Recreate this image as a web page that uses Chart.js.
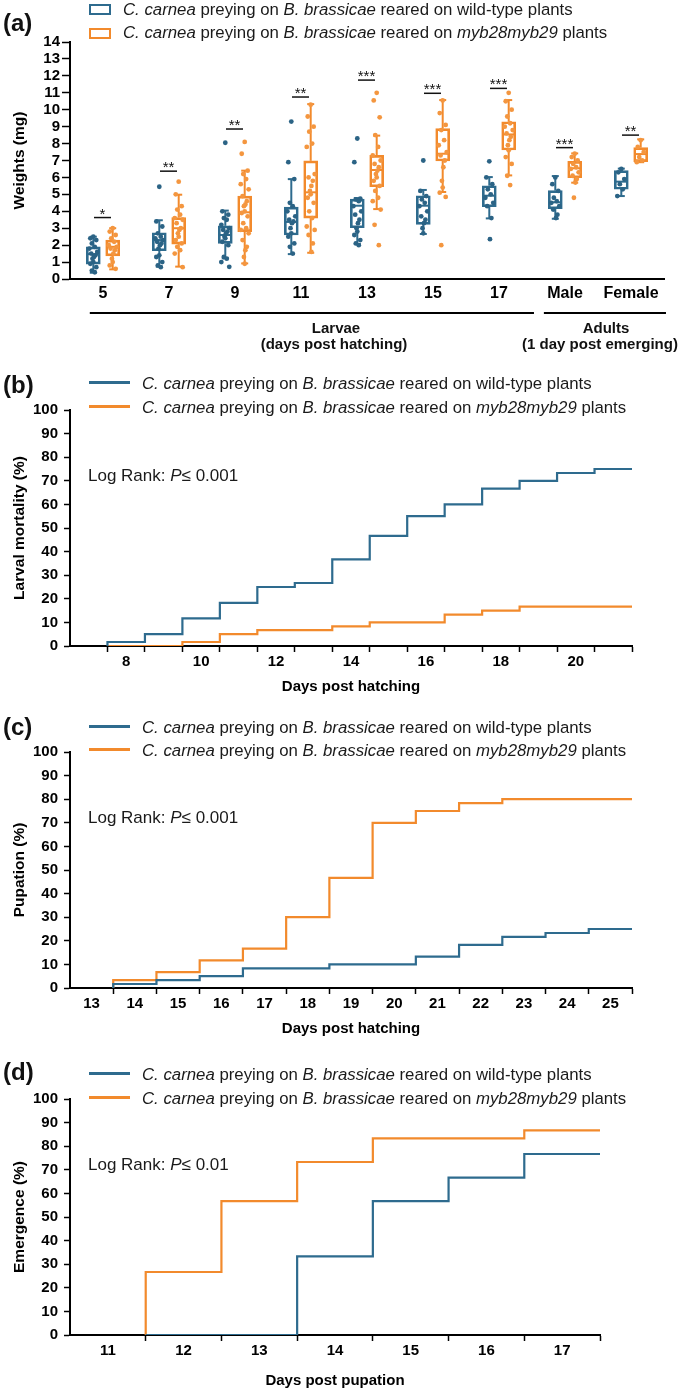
<!DOCTYPE html>
<html><head><meta charset="utf-8">
<script src="https://cdn.jsdelivr.net/npm/chart.js@4.4.1/dist/chart.umd.min.js"></script>
<style>
html,body{margin:0;padding:0;background:#fff;}
#page{position:relative;width:685px;height:1394px;overflow:hidden;font-family:"Liberation Sans",Arial,sans-serif;color:#1a1a1a;background:#fff;}
#page canvas{position:absolute;left:0;}
.t{position:absolute;white-space:nowrap;line-height:1;transform:translateY(-50%);}
.pl{font-weight:bold;font-size:24px;left:3px;color:#111;}
.lg{font-size:16.8px;}
.lr{font-size:17px;left:88px;}
.sw{position:absolute;left:89px;width:41px;height:2.5px;}
.bx{position:absolute;left:89px;width:22px;height:11px;box-sizing:border-box;border:2px solid;}
.br{font-weight:bold;font-size:15px;transform:translate(-50%,-50%);color:#111;}
</style></head><body><div id="page">
<canvas id="ca" width="685" height="360" style="top:0"></canvas>
<canvas id="cb" width="685" height="305" style="top:395px"></canvas>
<canvas id="cc" width="685" height="305" style="top:737px"></canvas>
<canvas id="cd" width="685" height="310" style="top:1084px"></canvas>

<div class="t pl" style="top:23px">(a)</div>
<div class="bx" style="top:4px;border-color:#2e6b8e"></div>
<div class="t lg" style="left:123px;top:10px"><i>C. carnea</i> preying on <i>B. brassicae</i> reared on wild-type plants</div>
<div class="bx" style="top:28px;border-color:#f28a2c"></div>
<div class="t lg" style="left:123px;top:33px"><i>C. carnea</i> preying on <i>B. brassicae</i> reared on <i>myb28myb29</i> plants</div>
<div class="t br" style="left:336px;top:327px">Larvae</div>
<div class="t br" style="left:334px;top:343px">(days post hatching)</div>
<div class="t br" style="left:606px;top:327px">Adults</div>
<div class="t br" style="left:600px;top:343px">(1 day post emerging)</div>

<div class="t pl" style="top:385px">(b)</div>
<div class="sw" style="top:381px;background:#2e6b8e"></div>
<div class="t lg" style="left:142px;top:384px"><i>C. carnea</i> preying on <i>B. brassicae</i> reared on wild-type plants</div>
<div class="sw" style="top:405px;background:#f28a2c"></div>
<div class="t lg" style="left:142px;top:408px"><i>C. carnea</i> preying on <i>B. brassicae</i> reared on <i>myb28myb29</i> plants</div>
<div class="t lr" style="top:475px">Log Rank: <i>P</i>≤ 0.001</div>

<div class="t pl" style="top:727px">(c)</div>
<div class="sw" style="top:725px;background:#2e6b8e"></div>
<div class="t lg" style="left:142px;top:728px"><i>C. carnea</i> preying on <i>B. brassicae</i> reared on wild-type plants</div>
<div class="sw" style="top:748px;background:#f28a2c"></div>
<div class="t lg" style="left:142px;top:751px"><i>C. carnea</i> preying on <i>B. brassicae</i> reared on <i>myb28myb29</i> plants</div>
<div class="t lr" style="top:817px">Log Rank: <i>P</i>≤ 0.001</div>

<div class="t pl" style="top:1072px">(d)</div>
<div class="sw" style="top:1072px;background:#2e6b8e"></div>
<div class="t lg" style="left:142px;top:1075px"><i>C. carnea</i> preying on <i>B. brassicae</i> reared on wild-type plants</div>
<div class="sw" style="top:1096px;background:#f28a2c"></div>
<div class="t lg" style="left:142px;top:1099px"><i>C. carnea</i> preying on <i>B. brassicae</i> reared on <i>myb28myb29</i> plants</div>
<div class="t lr" style="top:1164px">Log Rank: <i>P</i>≤ 0.01</div>
</div>
<script>
// ---------- (a) weights box plots ----------
const stageLabels = ['5','7','9','11','13','15','17','Male','Female'];
const wildQ1  = [0.88, 1.67, 2.10, 2.60, 3.03, 3.23, 4.27, 4.15, 5.30];
const wildMed = [1.47, 2.30, 2.60, 3.37, 4.33, 4.33, 4.92, 4.53, 5.75];
const wildQ3  = [1.90, 2.73, 3.14, 4.25, 4.72, 4.92, 5.51, 5.22, 6.40];
const wildLo  = [0.37, 0.73, 1.22, 1.47, 2.07, 2.66, 3.58, 3.56, 4.90];
const wildHi  = [2.50, 3.47, 4.04, 5.90, 4.78, 5.26, 6.02, 6.08, 6.52];
const mybQ1   = [1.37, 2.06, 2.80, 3.60, 5.45, 6.97, 7.62, 5.98, 6.93];
const mybMed  = [1.90, 3.00, 3.94, 5.12, 6.44, 7.40, 8.54, 6.54, 7.38];
const mybQ3   = [2.30, 3.63, 4.90, 6.98, 7.30, 8.88, 9.29, 6.95, 7.76];
const mybLo   = [0.57, 0.73, 0.92, 1.55, 4.13, 5.14, 6.12, 5.69, 6.90];
const mybHi   = [3.00, 4.98, 6.40, 10.33, 8.47, 10.57, 10.57, 7.42, 8.25];
const sigLevels = [3.63, 6.37, 8.86, 10.75, 11.75, 10.97, 11.26, 7.76, 8.5];
const sigStars  = ['*','**','**','**','***','***','***','***','**'];
const weightTicks = [0,1,2,3,4,5,6,7,8,9,10,11,12,13,14];
const wildPts = [
  [2.5,2.4,2.3,2.1,1.9,1.8,1.6,1.5,1.4,1.3,1.2,1.0,0.9,0.7,0.5,0.4],
  [5.45,3.4,3.1,2.7,2.5,2.4,2.3,2.2,2.1,2.0,1.8,1.4,1.3,1.0,0.8,0.7],
  [8.05,4.0,3.8,3.6,3.5,3.2,3.0,2.9,2.8,2.7,2.5,2.4,2.2,2.0,1.3,1.2,1.0,0.72],
  [9.3,6.9,5.9,4.5,4.3,4.0,3.7,3.5,3.4,3.3,3.0,2.7,2.5,2.1,1.9,1.5],
  [8.3,6.9,4.75,4.7,4.6,4.3,4.0,3.8,3.5,3.3,3.0,2.8,2.6,2.3,2.1,2.0],
  [7.0,5.2,4.9,4.7,4.5,4.3,4.0,3.7,3.5,3.3,3.0,2.7],
  [6.95,6.0,5.6,5.3,5.0,4.8,4.5,4.3,3.6,2.35],
  [6.0,5.6,5.2,4.8,4.6,4.5,4.3,4.1,3.8,3.6],
  [6.5,6.3,5.9,5.6,5.3,4.9]
];
const mybPts = [
  [3.0,2.8,2.6,2.4,2.2,2.0,1.9,1.8,1.7,1.5,1.2,1.0,0.8,0.6],
  [5.75,5.0,4.3,4.1,3.8,3.6,3.5,3.3,3.0,2.9,2.7,2.5,2.3,2.1,1.9,1.7,1.5,0.7],
  [8.1,7.4,6.4,6.2,5.9,5.6,5.3,4.9,4.6,4.4,4.3,4.0,3.9,3.7,3.3,3.0,2.9,2.7,2.3,1.9,1.7,1.3,0.9],
  [10.3,9.6,9.0,8.7,8.0,7.8,6.2,6.0,5.8,5.5,5.2,5.0,4.8,4.5,4.0,3.6,3.1,2.9,2.6,2.1,1.6],
  [11.0,10.55,9.55,8.5,7.8,7.3,7.0,6.8,6.6,6.4,6.2,6.0,5.8,5.5,5.2,4.8,4.6,4.1,3.2,2.0],
  [10.55,9.8,9.1,8.8,8.2,7.9,7.5,7.3,7.0,6.6,5.8,5.4,5.1,4.85,2.0],
  [11.0,10.5,10.0,9.6,9.2,9.0,8.8,8.6,8.4,8.2,7.9,7.6,7.2,6.8,6.1,5.55],
  [7.4,7.2,7.0,6.8,6.6,6.5,6.3,6.1,5.9,5.7,4.8],
  [8.2,7.8,7.5,7.2,7.0,6.9]
];

// ---------- (b) larval mortality ----------
const mortTickDays = [8,10,12,14,16,18,20];
const mortWildT = [7.5,7.5,8.5,9.5,10.5,11.5,12.5,13.5,14.5,15.5,16.5,17.5,18.5,19.5,20.5,21.5];
const mortWildV = [0,1.7,5,11.7,18.3,25,26.7,36.7,46.7,55,60,66.7,70,73.3,75,75];
const mortMybT  = [7.5,9.5,10.5,11.5,13.5,14.5,16.5,17.5,18.5,21.5];
const mortMybV  = [0,1.7,5,6.7,8.3,10,13.3,15,16.7,16.7];

// ---------- (c) pupation ----------
const pupTickDays = [13,14,15,16,17,18,19,20,21,22,23,24,25];
const pupWildT = [13.5,13.5,14.5,15.5,16.5,18.5,20.5,21.5,22.5,23.5,24.5,25.5];
const pupWildV = [0,1.7,3.3,5,8.3,10,13.3,18.3,21.7,23.3,25,25];
const pupMybT  = [13.5,13.5,14.5,15.5,16.5,17.5,18.5,19.5,20.5,21.5,22.5,25.5];
const pupMybV  = [0,3.3,6.7,11.7,16.7,30,46.7,70,75,78.3,80,80];

// ---------- (d) emergence ----------
const emTickDays = [11,12,13,14,15,16,17];
const emWildT = [11.5,13.5,14.5,15.5,16.5,17.5];
const emWildV = [0,33.3,56.7,66.7,76.7,76.7];
const emMybT  = [11.5,11.5,12.5,13.5,14.5,16.5,17.5];
const emMybV  = [0,26.7,56.7,73.3,83.3,86.7,86.7];

const FAMILY = '"Liberation Sans", Arial, sans-serif';
const BLUE = '#2e6b8e', ORANGE = '#f28a2c';
const BLUE_PT = '#2b6385', ORANGE_PT = '#f4963f';
Chart.defaults.font.family = FAMILY;
Chart.defaults.color = '#000';

const OFF = 0.147;
const JIT = [0,-0.045,0.045,-0.022,0.022,-0.06,0.06,-0.032,0.032,0.01,-0.012];
function ptsData(arr, off){
  const out = [];
  arr.forEach((vals,i)=>vals.forEach((v,k)=>out.push({x:i+off+JIT[k%JIT.length], y:v})));
  return out;
}
function boxData(q1,q3,off){ return q1.map((v,i)=>({x:i+off, y:[v,q3[i]]})); }

const groupsA = [
  {off:-OFF, color:BLUE, q1:wildQ1, med:wildMed, q3:wildQ3, lo:wildLo, hi:wildHi},
  {off: OFF, color:ORANGE, q1:mybQ1, med:mybMed, q3:mybQ3, lo:mybLo, hi:mybHi}
];
function seg(ctx,x1,y1,x2,y2){ctx.beginPath();ctx.moveTo(x1,y1);ctx.lineTo(x2,y2);ctx.stroke();}

const boxPlugin = {
  id:'boxExtras',
  beforeDatasetsDraw(chart){
    const {ctx, scales:{x,y}} = chart;
    ctx.save(); ctx.lineWidth = 2;
    groupsA.forEach(g=>{
      ctx.strokeStyle = g.color;
      stageLabels.forEach((_,i)=>{
        const px = x.getPixelForValue(i+g.off);
        const yh = y.getPixelForValue(g.hi[i]), yl = y.getPixelForValue(g.lo[i]);
        seg(ctx,px,y.getPixelForValue(g.q3[i]),px,yh);
        seg(ctx,px-3.5,yh,px+3.5,yh);
        seg(ctx,px,y.getPixelForValue(g.q1[i]),px,yl);
        seg(ctx,px-3.5,yl,px+3.5,yl);
        const ym = y.getPixelForValue(g.med[i]);
        seg(ctx,px-6,ym,px+6,ym);
      });
    });
    ctx.restore();
  },
  afterDraw(chart){
    const {ctx, scales:{x,y}} = chart;
    ctx.save();
    ctx.strokeStyle = '#111'; ctx.fillStyle = '#111'; ctx.lineWidth = 1.5;
    ctx.font = '15px ' + FAMILY; ctx.textAlign = 'center'; ctx.textBaseline = 'alphabetic';
    stageLabels.forEach((_,i)=>{
      const cx = x.getPixelForValue(i), py = y.getPixelForValue(sigLevels[i]);
      seg(ctx,cx-9,py,cx+8,py);
      ctx.fillText(sigStars[i], cx-0.5, py+1);
    });
    ctx.strokeStyle = '#000'; ctx.lineWidth = 2;
    const by = y.bottom + 34;
    seg(ctx, x.getPixelForValue(-0.2), by, x.getPixelForValue(6.53), by);
    seg(ctx, x.getPixelForValue(6.68), by, x.getPixelForValue(8.53), by);
    ctx.restore();
  }
};

new Chart(document.getElementById('ca'), {
  type:'bar',
  data:{datasets:[
    {type:'scatter', data:ptsData(wildPts,-OFF), backgroundColor:BLUE_PT, borderWidth:0, pointRadius:2.4, order:1},
    {type:'scatter', data:ptsData(mybPts,OFF), backgroundColor:ORANGE_PT, borderWidth:0, pointRadius:2.4, order:1},
    {type:'bar', data:boxData(wildQ1,wildQ3,-OFF), borderColor:BLUE, backgroundColor:'rgba(255,255,255,0)', borderWidth:2, barThickness:14, grouped:false, borderSkipped:false, order:2},
    {type:'bar', data:boxData(mybQ1,mybQ3,OFF), borderColor:ORANGE, backgroundColor:'rgba(255,255,255,0)', borderWidth:2, barThickness:14, grouped:false, borderSkipped:false, order:2}
  ]},
  options:{
    responsive:false, animation:false, events:[],
    layout:{padding:{top:42,right:21,left:0,bottom:0}},
    plugins:{legend:{display:false}, tooltip:{enabled:false}},
    scales:{
      x:{type:'linear', min:-0.5, max:8.5, offset:false,
        afterBuildTicks(s){ s.ticks = stageLabels.map((_,i)=>({value:i})); },
        ticks:{autoSkip:false, maxRotation:0, padding:5, font:{size:16, weight:'bold'}, color:'#000',
          callback:(v)=> (stageLabels[v] !== undefined ? stageLabels[v] : '')},
        grid:{display:false, drawTicks:false, offset:false},
        border:{display:true, color:'#000', width:2},
        afterFit(s){ s.height = 81; }
      },
      y:{min:0, max:14,
        afterBuildTicks(s){ s.ticks = weightTicks.map(v=>({value:v})); },
        ticks:{autoSkip:false, padding:2, font:{size:15, weight:'bold'}, color:'#000'},
        grid:{drawOnChartArea:false, drawTicks:true, tickLength:8, tickColor:'#000', tickWidth:1.5},
        border:{display:true, color:'#000', width:2},
        title:{display:true, text:'Weights (mg)', color:'#000', font:{size:15.5, weight:'bold'}, padding:{top:10,bottom:0}},
        afterFit(s){ s.width = 70; }
      }
    }
  },
  plugins:[boxPlugin]
});

function kmChart(id, c){
  const mk = (T,V)=>T.map((t,i)=>({x:t, y:V[i]}));
  return new Chart(document.getElementById(id), {
    type:'line',
    data:{datasets:[
      {data:mk(c.wT,c.wV), borderColor:BLUE, borderWidth:2.2, stepped:'before', pointRadius:0, fill:false},
      {data:mk(c.mT,c.mV), borderColor:ORANGE, borderWidth:2.2, stepped:'before', pointRadius:0, fill:false}
    ]},
    options:{
      responsive:false, animation:false, events:[],
      layout:{padding:{top:14, right:c.right, left:0, bottom:0}},
      plugins:{legend:{display:false}, tooltip:{enabled:false}},
      scales:{
        x:{type:'linear', min:c.xmin, max:c.xmax, offset:false,
          afterBuildTicks(s){ const t=[]; for(let v=c.xmin+0.5; v<=c.xmax+1e-9; v+=0.5) t.push({value:v}); s.ticks=t; },
          ticks:{autoSkip:false, maxRotation:0, padding:1, font:{size:15, weight:'bold'}, color:'#000',
            callback:(v)=> (c.labels.includes(v) ? String(v) : '')},
          grid:{drawOnChartArea:false, drawTicks:true, tickLength:6, tickWidth:1.5,
            tickColor:(ctx)=> (ctx.tick && Number.isInteger(ctx.tick.value)) ? 'rgba(0,0,0,0)' : '#000'},
          border:{display:true, color:'#000', width:2},
          title:{display:true, text:c.xTitle, color:'#000', font:{size:15, weight:'bold'}, padding:{top:4,bottom:4}},
          afterFit(s){ s.height = c.xh; }
        },
        y:{min:0, max:100,
          ticks:{stepSize:10, autoSkip:false, padding:6, font:{size:15, weight:'bold'}, color:'#000'},
          grid:{drawOnChartArea:false, drawTicks:true, tickLength:6, tickColor:'#000', tickWidth:1.5},
          border:{display:true, color:'#000', width:2},
          title:{display:true, text:c.yTitle, color:'#000', font:{size:15.5, weight:'bold'}, padding:{top:10,bottom:0}},
          afterFit(s){ s.width = 70; }
        }
      }
    }
  });
}

kmChart('cb', {wT:mortWildT, wV:mortWildV, mT:mortMybT, mV:mortMybV, xmin:6.5, xmax:21.5, labels:mortTickDays,
  right:53, xh:54, xTitle:'Days post hatching', yTitle:'Larval mortality (%)'});
kmChart('cc', {wT:pupWildT, wV:pupWildV, mT:pupMybT, mV:pupMybV, xmin:12.5, xmax:25.5, labels:pupTickDays,
  right:53, xh:54, xTitle:'Days post hatching', yTitle:'Pupation (%)'});
kmChart('cd', {wT:emWildT, wV:emWildV, mT:emMybT, mV:emMybV, xmin:10.5, xmax:17.5, labels:emTickDays,
  right:85, xh:59, xTitle:'Days post pupation', yTitle:'Emergence (%)'});
</script>
</body></html>
